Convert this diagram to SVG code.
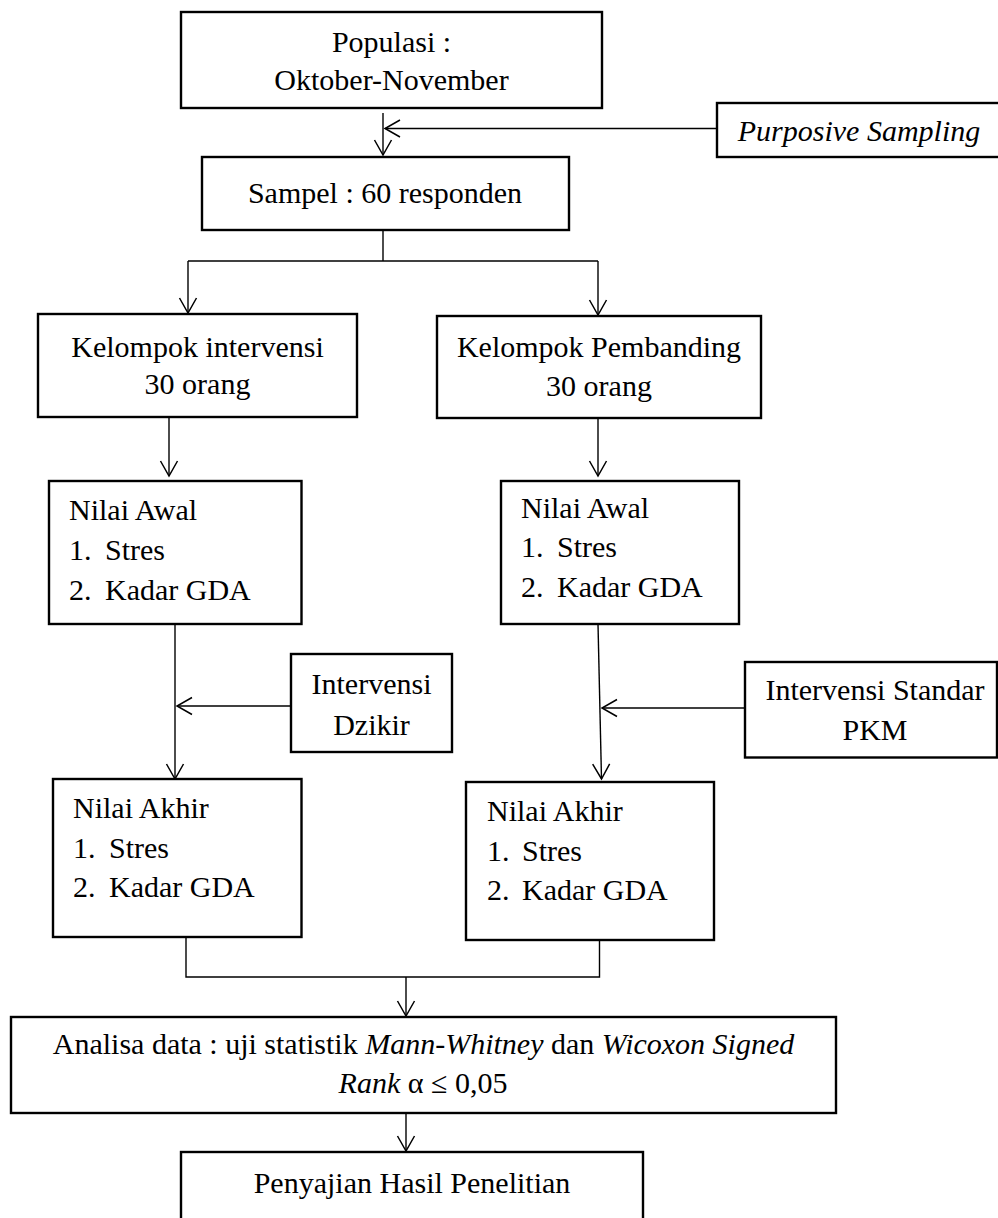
<svg xmlns="http://www.w3.org/2000/svg" width="998" height="1218" viewBox="0 0 998 1218">
<style>
.box{fill:#fff;stroke:#000;stroke-width:2.4}
.t{font-family:"Liberation Serif","Times New Roman",serif;font-size:30px;fill:#000}
.c{text-anchor:middle}
.i{font-style:italic}
.ln{fill:none;stroke:#000;stroke-width:1.4}
</style>
<defs>
<marker id="ah" markerWidth="20" markerHeight="20" viewBox="-16 -10 20 20" refX="0" refY="0" orient="auto" markerUnits="userSpaceOnUse">
<path d="M-15,-8.5 L0,0 L-15,8.5" fill="none" stroke="#000" stroke-width="1.5"/>
</marker>
</defs>
<rect width="998" height="1218" fill="#fff"/>
<g id="connectors">
<line class="ln" x1="383" y1="113" x2="383" y2="155" marker-end="url(#ah)"/>
<line class="ln" x1="717" y1="128.5" x2="385" y2="128.5" marker-end="url(#ah)"/>
<line class="ln" x1="383" y1="230" x2="383" y2="261"/>
<line class="ln" x1="188" y1="261" x2="598" y2="261"/>
<line class="ln" x1="188" y1="261" x2="188" y2="313" marker-end="url(#ah)"/>
<line class="ln" x1="598" y1="261" x2="598" y2="315" marker-end="url(#ah)"/>
<line class="ln" x1="169" y1="417" x2="169" y2="476" marker-end="url(#ah)"/>
<line class="ln" x1="598" y1="418" x2="598" y2="476" marker-end="url(#ah)"/>
<line class="ln" x1="175" y1="624" x2="175" y2="779" marker-end="url(#ah)"/>
<line class="ln" x1="291" y1="706" x2="177" y2="706" marker-end="url(#ah)"/>
<line class="ln" x1="598" y1="624" x2="601.5" y2="779" marker-end="url(#ah)"/>
<line class="ln" x1="745" y1="708" x2="602" y2="708" marker-end="url(#ah)"/>
<polyline class="ln" points="186,937 186,977 599.5,977 599.5,940"/>
<line class="ln" x1="406" y1="977" x2="406" y2="1016" marker-end="url(#ah)"/>
<line class="ln" x1="406" y1="1113" x2="406" y2="1151" marker-end="url(#ah)"/>
</g>
<g id="populasi">
<rect class="box" x="181" y="12" width="421" height="96"/>
<text class="t c" x="391.5" y="52">Populasi :</text>
<text class="t c" x="391.5" y="90">Oktober-November</text>
</g>
<g id="purposive">
<rect class="box" x="717" y="103" width="290" height="54"/>
<text class="t c i" x="859" y="141">Purposive Sampling</text>
</g>
<g id="sampel">
<rect class="box" x="202" y="157" width="367" height="73"/>
<text class="t c" x="385" y="203">Sampel : 60 responden</text>
</g>
<g id="kel-intervensi">
<rect class="box" x="38" y="314" width="319" height="103"/>
<text class="t c" x="197.5" y="357">Kelompok intervensi</text>
<text class="t c" x="197.5" y="394">30 orang</text>
</g>
<g id="kel-pembanding">
<rect class="box" x="437" y="316" width="324" height="102"/>
<text class="t c" x="599" y="357">Kelompok Pembanding</text>
<text class="t c" x="599" y="396">30 orang</text>
</g>
<g id="awal-kiri">
<rect class="box" x="49" y="481" width="252.5" height="143"/>
<text class="t" x="69" y="520">Nilai Awal</text>
<text class="t" x="69" y="560">1.</text><text class="t" x="105" y="560">Stres</text>
<text class="t" x="69" y="600">2.</text><text class="t" x="105" y="600">Kadar GDA</text>
</g>
<g id="awal-kanan">
<rect class="box" x="501" y="481" width="238" height="143"/>
<text class="t" x="521" y="518">Nilai Awal</text>
<text class="t" x="521" y="557">1.</text><text class="t" x="557" y="557">Stres</text>
<text class="t" x="521" y="597">2.</text><text class="t" x="557" y="597">Kadar GDA</text>
</g>
<g id="dzikir">
<rect class="box" x="291" y="654" width="161" height="98"/>
<text class="t c" x="371.5" y="694">Intervensi</text>
<text class="t c" x="371.5" y="735">Dzikir</text>
</g>
<g id="standar">
<rect class="box" x="745" y="662" width="252" height="95.5"/>
<text class="t c" x="875" y="700">Intervensi Standar</text>
<text class="t c" x="875" y="740">PKM</text>
</g>
<g id="akhir-kiri">
<rect class="box" x="53" y="779" width="248.5" height="158"/>
<text class="t" x="73" y="818">Nilai Akhir</text>
<text class="t" x="73" y="858">1.</text><text class="t" x="109" y="858">Stres</text>
<text class="t" x="73" y="897">2.</text><text class="t" x="109" y="897">Kadar GDA</text>
</g>
<g id="akhir-kanan">
<rect class="box" x="466" y="782" width="248" height="158"/>
<text class="t" x="487" y="821">Nilai Akhir</text>
<text class="t" x="487" y="861">1.</text><text class="t" x="522" y="861">Stres</text>
<text class="t" x="487" y="900">2.</text><text class="t" x="522" y="900">Kadar GDA</text>
</g>
<g id="analisa">
<rect class="box" x="11" y="1017" width="825" height="96"/>
<text class="t c" x="423.5" y="1054">Analisa data : uji statistik <tspan class="i">Mann-Whitney</tspan> dan <tspan class="i">Wicoxon Signed</tspan></text>
<text class="t c" x="423" y="1093"><tspan class="i">Rank</tspan> α ≤ 0,05</text>
</g>
<g id="penyajian">
<rect class="box" x="181" y="1152" width="462" height="80"/>
<text class="t c" x="412" y="1193">Penyajian Hasil Penelitian</text>
</g>
</svg>
